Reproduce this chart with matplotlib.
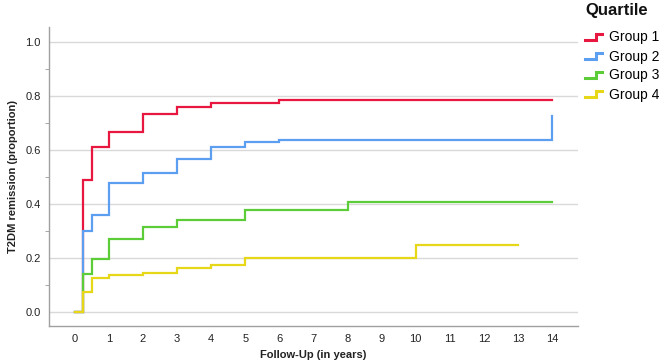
import matplotlib
matplotlib.use("Agg")
import matplotlib.pyplot as plt
from matplotlib.legend_handler import HandlerBase
from matplotlib.lines import Line2D

plt.rcParams['font.family'] = ['Liberation Sans', 'DejaVu Sans']

# Data (step curves: event times and cumulative proportion after each time)
g1_t = [0, 0.25, 0.5, 1, 2, 3, 4, 6, 14]
g1_y = [0, 0.489, 0.612, 0.665, 0.731, 0.757, 0.774, 0.783, 0.783]
g2_t = [0, 0.25, 0.5, 1, 2, 3, 4, 5, 6, 14]
g2_y = [0, 0.298, 0.360, 0.477, 0.516, 0.567, 0.612, 0.628, 0.638, 0.726]
g3_t = [0, 0.25, 0.5, 1, 2, 3, 5, 8, 14]
g3_y = [0, 0.140, 0.197, 0.270, 0.314, 0.340, 0.378, 0.405, 0.405]
g4_t = [0, 0.25, 0.5, 1, 2, 3, 4, 5, 10, 13]
g4_y = [0, 0.073, 0.127, 0.136, 0.144, 0.164, 0.175, 0.201, 0.246, 0.246]

labels = ["Group 1", "Group 2", "Group 3", "Group 4"]
colors = ["#e8173f", "#5c9ef0", "#5ccc38", "#e6d818"]
series = [(g1_t, g1_y), (g2_t, g2_y), (g3_t, g3_y), (g4_t, g4_y)]
xticks = list(range(0, 15))
yticks = [0.0, 0.2, 0.4, 0.6, 0.8, 1.0]

fig = plt.figure(figsize=(6.62, 3.63), dpi=100)
ax = fig.add_axes([0.074, 0.102, 0.799, 0.824])

for (t, y), c, lab in zip(series, colors, labels):
    ax.step(t, y, where='post', color=c, lw=1.6, label=lab, solid_joinstyle='miter')

ax.set_xlim(-0.76, 14.76)
ax.set_ylim(-0.052, 1.055)
ax.set_xticks(xticks)
ax.set_yticks(yticks)
ax.set_yticklabels([f"{v:.1f}" for v in yticks])
ax.set_yticks([0.1, 0.3, 0.5, 0.7, 0.9], minor=True)
ax.tick_params(axis='both', which='major', length=0, labelsize=8, colors='#222222', pad=6)
ax.tick_params(axis='y', which='minor', length=3, color='#999999', direction='out')
ax.yaxis.grid(True, which='major', color='#d9d9d9', lw=1)
ax.set_axisbelow(True)
for s in ['top', 'right']:
    ax.spines[s].set_visible(False)
for s in ['left', 'bottom']:
    ax.spines[s].set_color('#a0a0a0')
    ax.spines[s].set_linewidth(1)

ax.set_xlabel("Follow-Up (in years)", fontsize=8, fontweight='bold', color='#222222', labelpad=4)
ax.set_ylabel("T2DM remission (proportion)", fontsize=8, fontweight='bold', color='#222222', labelpad=5)


class StepHandler(HandlerBase):
    def create_artists(self, legend, orig_handle, xdescent, ydescent, width, height, fontsize, trans):
        x0 = -xdescent
        yc = -ydescent + height * 0.45
        y0 = yc - 2.0
        y1 = yc + 2.0
        xs = [x0, x0 + width * 0.63, x0 + width * 0.63, x0 + width]
        ys = [y0, y0, y1, y1]
        ln = Line2D(xs, ys, color=orig_handle.get_color(), lw=2.2, solid_joinstyle='miter')
        ln.set_transform(trans)
        return [ln]


handles = ax.get_lines()
leg = fig.legend(handles, labels, loc='upper left', bbox_to_anchor=(585 / 662, 1 - 30.5 / 363),
                 frameon=False, fontsize=10, borderpad=0, borderaxespad=0,
                 handler_map={Line2D: StepHandler()}, handlelength=1.25,
                 handletextpad=0.5, labelspacing=0.36)
fig.text(585 / 662, 1 - 10.5 / 363, "Quartile", fontsize=12, fontweight='bold',
         ha='left', va='center', color='#111111')

fig.savefig("out.png", dpi=100)
